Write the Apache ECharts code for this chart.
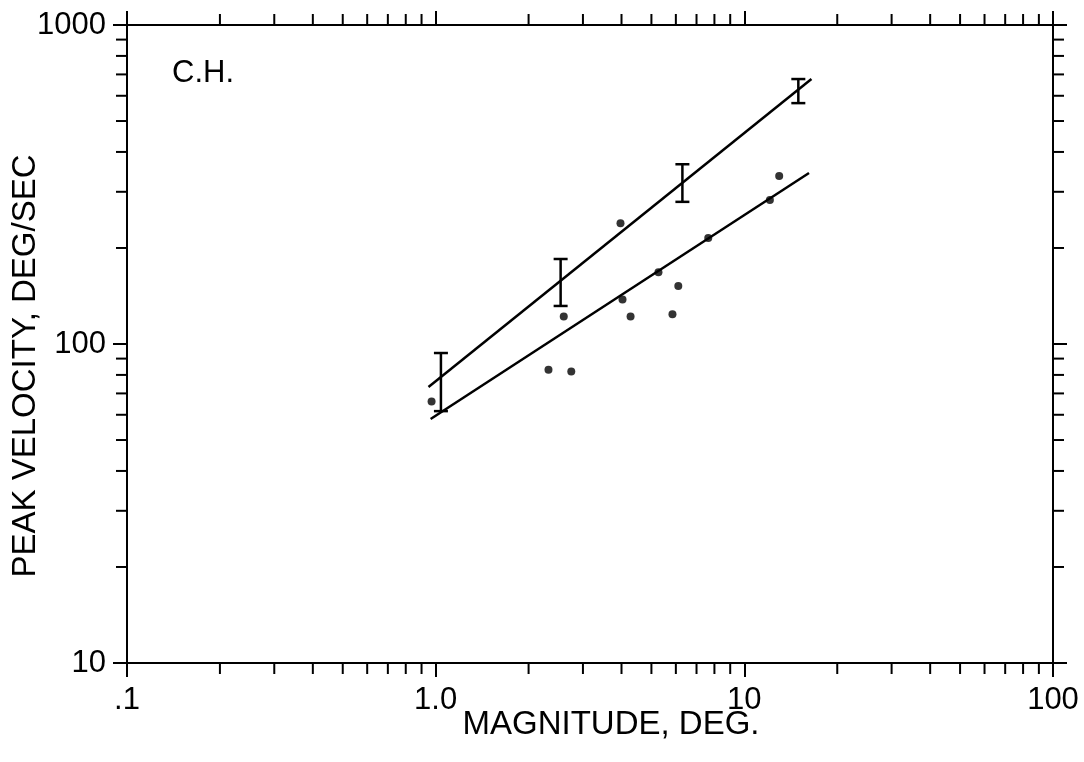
<!DOCTYPE html>
<html>
<head>
<meta charset="utf-8">
<script src="https://cdn.jsdelivr.net/npm/echarts@6/dist/echarts.min.js"></script>
<style>
html,body{margin:0;padding:0;background:#fff;}
#chart{width:1084px;height:762px;}
</style>
</head>
<body>
<div id="chart"></div>
<script>
// ---- data ----
const xTickLabels = {'-1': '.1', '0': '1.0', '1': '10', '2': '100'};
const yTickLabels = {'1': '10', '2': '100', '3': '1000'};
const xMinor = [0.2,0.3,0.4,0.5,0.6,0.7,0.8,0.9, 2,3,4,5,6,7,8,9, 20,30,40,50,60,70,80,90];
const yMinor = [20,30,40,50,60,70,80,90, 200,300,400,500,600,700,800,900];
// individual measurements [magnitude, peak velocity]
const points = [
  [0.97,66],[2.32,83],[2.75,82],[2.6,122],[3.97,239],[4.03,138],[4.28,122],
  [5.27,168],[5.85,124],[6.11,152],[7.64,215],[12.1,283],[12.97,336]
];
// error bars [magnitude, low, high]
const errorBars = [[1.04,61.6,93.7],[2.54,131.6,184.7],[6.3,279,366],[14.96,569,677]];
// fitted lines (end points)
const upperLine = [[0.948,73.3],[16.5,677]];
const lowerLine = [[0.963,58.2],[16.2,343.6]];

const FONT = '"Liberation Sans", Arial, Helvetica, sans-serif';
const INK = '#000';

const chart = echarts.init(document.getElementById('chart'), null, {renderer:'canvas'});

function logKey(v){ return String(Math.round(Math.log10(v))); }

const baseX = {
  type:'log', logBase:10, min:0.1, max:100,
  axisLine:{show:true, onZero:false, lineStyle:{color:INK, width:2}},
  axisTick:{show:true, inside:false, length:14, lineStyle:{color:INK, width:2}},
  splitLine:{show:false}, minorTick:{show:false}
};
const baseY = {
  type:'log', logBase:10, min:10, max:1000,
  axisLine:{show:true, onZero:false, lineStyle:{color:INK, width:2}},
  axisTick:{show:true, inside:false, length:14, lineStyle:{color:INK, width:2}},
  splitLine:{show:false}, minorTick:{show:false}
};

const option = {
  backgroundColor:'#fff',
  animation:false,
  grid:{left:127, right:31, top:25, bottom:99, containLabel:false},
  xAxis:[
    Object.assign({}, baseX, {
      position:'bottom',
      axisLabel:{show:true, margin:22, color:INK, fontSize:31, fontFamily:FONT,
        formatter:v => xTickLabels[logKey(v)] || ''}
    }),
    Object.assign({}, baseX, {position:'top', axisLabel:{show:false}})
  ],
  yAxis:[
    Object.assign({}, baseY, {
      position:'left',
      axisLabel:{show:true, margin:21, color:INK, fontSize:31, fontFamily:FONT,
        formatter:v => yTickLabels[logKey(v)] || ''}
    }),
    Object.assign({}, baseY, {position:'right', axisLabel:{show:false}})
  ],
  graphic:[
    {type:'text', left:172, top:58, style:{text:'C.H.', fill:INK, font:'31px '+FONT}},
    {type:'text', x:611, y:725,
      style:{text:'MAGNITUDE, DEG.', fill:INK, font:'33px '+FONT, textAlign:'center', textVerticalAlign:'middle'}},
    {type:'text', x:26, y:366, rotation:Math.PI/2,
      style:{text:'PEAK VELOCITY, DEG/SEC', fill:INK, font:'33px '+FONT, textAlign:'center', textVerticalAlign:'middle'}}
  ],
  series:[
    {
      type:'custom', name:'xminor', xAxisIndex:0, yAxisIndex:0, clip:false, silent:true,
      data: xMinor.map(v => [v, 100]),
      renderItem:(params, api) => {
        const p = api.coord([api.value(0), 100]);
        const cs = params.coordSys;
        const b = cs.y + cs.height, t = cs.y;
        return {type:'group', children:[
          {type:'line', shape:{x1:p[0], y1:b, x2:p[0], y2:b+11}, style:{stroke:INK, lineWidth:2}},
          {type:'line', shape:{x1:p[0], y1:t, x2:p[0], y2:t-11}, style:{stroke:INK, lineWidth:2}}
        ]};
      }
    },
    {
      type:'custom', name:'yminor', xAxisIndex:0, yAxisIndex:0, clip:false, silent:true,
      data: yMinor.map(v => [1, v]),
      renderItem:(params, api) => {
        const p = api.coord([1, api.value(1)]);
        const cs = params.coordSys;
        const l = cs.x, r = cs.x + cs.width;
        return {type:'group', children:[
          {type:'line', shape:{x1:l, y1:p[1], x2:l-11, y2:p[1]}, style:{stroke:INK, lineWidth:2}},
          {type:'line', shape:{x1:r, y1:p[1], x2:r+11, y2:p[1]}, style:{stroke:INK, lineWidth:2}}
        ]};
      }
    },
    {
      type:'line', name:'upper', data:upperLine, showSymbol:false, symbol:'none',
      lineStyle:{color:INK, width:2.5}
    },
    {
      type:'line', name:'lower', data:lowerLine, showSymbol:false, symbol:'none',
      lineStyle:{color:INK, width:2.5}
    },
    {
      type:'custom', name:'errors', clip:false,
      data: errorBars,
      renderItem:(params, api) => {
        const lo = api.coord([api.value(0), api.value(1)]);
        const hi = api.coord([api.value(0), api.value(2)]);
        const w = 7;
        return {type:'group', children:[
          {type:'line', shape:{x1:lo[0], y1:lo[1], x2:hi[0], y2:hi[1]}, style:{stroke:INK, lineWidth:2.5}},
          {type:'line', shape:{x1:lo[0]-w, y1:lo[1], x2:lo[0]+w, y2:lo[1]}, style:{stroke:INK, lineWidth:2.5}},
          {type:'line', shape:{x1:hi[0]-w, y1:hi[1], x2:hi[0]+w, y2:hi[1]}, style:{stroke:INK, lineWidth:2.5}}
        ]};
      }
    },
    {
      type:'scatter', name:'points', data:points, symbol:'circle', symbolSize:8,
      itemStyle:{color:INK}
    }
  ]
};
chart.setOption(option);
</script>
</body>
</html>
